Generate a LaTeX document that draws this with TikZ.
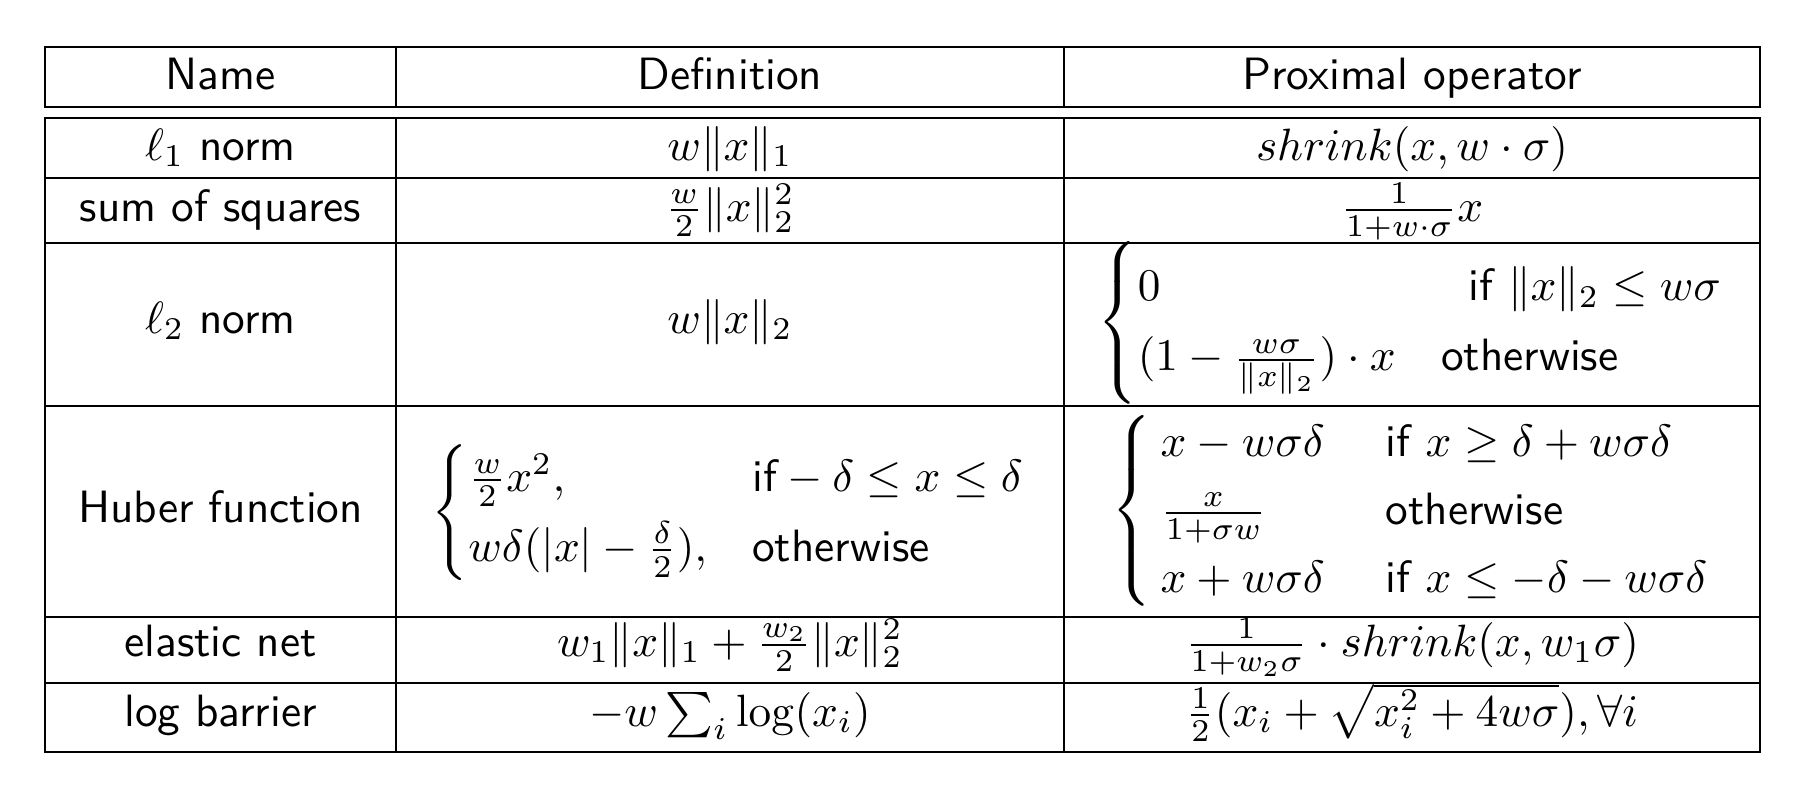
\documentclass[tikz,border=0pt]{standalone}
\usepackage{amsmath}
\begin{document}
\begin{tikzpicture}[x=0.2208pt,y=-0.2208pt,
  cell/.style={anchor=base,inner sep=0pt,font=\sffamily},
  rule/.style={line width=0.6pt,draw=black}]
\useasboundingbox (0,0) rectangle (1798,784);
% header box
\draw[rule] (45,47) rectangle (1760,107);
\draw[rule] (396,47) -- (396,107);
\draw[rule] (1064,47) -- (1064,107);
% body box
\draw[rule] (45,118) rectangle (1760,752);
\draw[rule] (396,118) -- (396,752);
\draw[rule] (1064,118) -- (1064,752);
\foreach \yy in {178,243,406,617,683} {\draw[rule] (45,\yy) -- (1760,\yy);}
% header
\node[cell] (h1) at (220.5,89.5) {Name};
\node[cell] (h2) at (730,89.5) {Definition};
\node[cell] (h3) at (1412,89.5) {Proximal operator};
% l1
\node[cell] (n1) at (220.5,160) {$\ell_1$ norm};
\node[cell] (d1) at (730,160) {$w\|x\|_1$};
\node[cell] (p1) at (1412,160) {$shrink(x, w\cdot\sigma)$};
% sum of squares
\node[cell] (n2) at (220.5,221) {sum of squares};
\node[cell] (d2) at (730,221) {$\frac{w}{2}\|x\|_2^2$};
\node[cell] (p2) at (1412,221) {$\frac{1}{1+w\cdot\sigma}x$};
% l2
\node[cell] (n3) at (220.5,333) {$\ell_2$ norm};
\node[cell] (d3) at (730,333) {$w\|x\|_2$};
\node[cell] (p3) at (1412,334) {$\left\{\vrule height 20.5pt depth 15.5pt width 0pt\def\arraystretch{1.3}\begin{array}{@{}l@{\quad}l@{}}0 & \hspace{6pt}\text{if } \|x\|_2\le w\sigma\\ (1-\frac{w\sigma}{\|x\|_2})\cdot x & \text{otherwise}\end{array}\right.$};
% Huber
\node[cell] (n4) at (220.5,522) {Huber function};
\node[cell] (d4) at (730,523.5) {$\left\{\def\arraystretch{1.3}\begin{array}{@{}l@{\quad}l@{}}\frac{w}{2}x^2, & \text{if} -\delta\le x\le\delta\\ w\delta(|x|-\frac{\delta}{2}), & \text{otherwise}\end{array}\right.$};
\node[cell] (p4) at (1412,522) {$\left\{\def\arraystretch{1.25}\begin{array}{@{}l@{\quad}l@{}}\hspace{2pt}x - w\sigma\delta\hspace{3.5pt} & \text{if } x\ge\delta+w\sigma\delta\\ \hspace{2pt}\frac{x}{1+\sigma w} & \text{otherwise}\\ \hspace{2pt}x+w\sigma\delta & \text{if } x\le-\delta-w\sigma\delta\end{array}\right.$};
% elastic net
\node[cell] (n5) at (220.5,656) {elastic net};
\node[cell] (d5) at (730,656) {$w_1\|x\|_1+\frac{w_2}{2}\|x\|_2^2$};
\node[cell] (p5) at (1412,656) {$\frac{1}{1+w_2\sigma}\cdot shrink(x,w_1\sigma)$};
% log barrier
\node[cell] (n6) at (220.5,726) {log barrier};
\node[cell] (d6) at (730,726) {$-w\sum_i\log(x_i)$};
\node[cell] (p6) at (1412,726) {$\frac12(x_i+\sqrt{x_i^2+4w\sigma}),\forall i$};
\end{tikzpicture}
\end{document}
